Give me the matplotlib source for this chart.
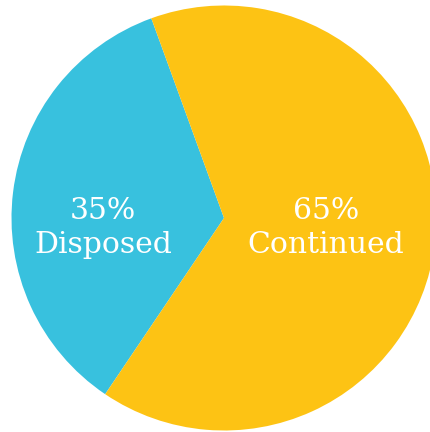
import matplotlib
matplotlib.use("Agg")
import matplotlib.pyplot as plt

# ----- data -----
labels = ["Disposed", "Continued"]
shares = [35, 65]
colors = ["#38C1DE", "#FDC314"]

# label anchor points (pixel space, y up)
label_x = [103, 326]

fig = plt.figure(figsize=(4.30, 4.32), dpi=100)
ax = fig.add_axes([0, 0, 1, 1])

ax.pie(shares, colors=colors, startangle=110, counterclock=True,
       center=(224, 214), radius=212.5, frame=True,
       wedgeprops={"linewidth": 0})
ax.set_xlim(0, 430)
ax.set_ylim(0, 432)
ax.set_aspect("equal")
ax.axis("off")

font = dict(color="white", family="DejaVu Serif", fontsize=21.5, ha="center",
            va="baseline")
for name, val, x in zip(labels, shares, label_x):
    ax.text(x, 213, f"{val}%", **font)
    ax.text(x, 179, name, **font)

fig.savefig("out.png", dpi=100)
